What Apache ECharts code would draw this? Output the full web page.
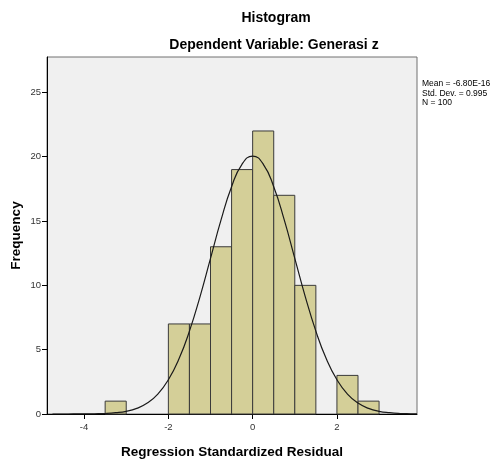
<!DOCTYPE html>
<html>
<head>
<meta charset="utf-8">
<script src="https://cdn.jsdelivr.net/npm/echarts@6/dist/echarts.min.js"></script>
<style>
html,body{margin:0;padding:0;background:#fff;}
#chart{width:499px;height:459px;}
</style>
</head>
<body>
<div id="chart"></div>
<script>
// Histogram bins: [start, end]
var binStarts = [-3.5, -2.0, -1.5, -1.0, -0.5, 0.0, 0.5, 1.0, 2.0, 2.5];
var binWidth = 0.5;
var frequencies = [1, 7, 7, 13, 19, 22, 17, 10, 3, 1];

// Normal curve
var curveX = [-4.75, -4.5, -4.25, -4.0, -3.75, -3.5, -3.25, -3.0, -2.75, -2.5, -2.25, -2.0, -1.75, -1.5, -1.25, -1.0, -0.75, -0.5, -0.25, 0.0,
              0.25, 0.5, 0.75, 1.0, 1.25, 1.5, 1.75, 2.0, 2.25, 2.5, 2.75, 3.0, 3.25, 3.5, 3.75, 3.9];
var curveY = [0.0, 0.0, 0.002, 0.006, 0.017, 0.04, 0.10, 0.21, 0.44, 0.85, 1.55, 2.66, 4.27, 6.44, 9.11, 12.10, 15.09, 17.67, 19.43, 20.05,
              19.43, 17.67, 15.09, 12.10, 9.11, 6.44, 4.27, 2.66, 1.55, 0.85, 0.44, 0.21, 0.10, 0.04, 0.017, 0.009];

var xTicks = [-4, -2, 0, 2];
var yTicks = [0, 5, 10, 15, 20, 25];

var titleText = 'Histogram';
var subtitleText = 'Dependent Variable: Generasi z';
var statsLines = ['Mean = -6.80E-16', 'Std. Dev. = 0.995', 'N = 100'];

var barData = binStarts.map(function (s, i) { return [s, s + binWidth, frequencies[i]]; });
var curveData = curveX.map(function (x, i) { return [x, curveY[i]]; });

var chart = echarts.init(document.getElementById('chart'), null, {renderer: 'canvas'});
var font = 'Liberation Sans, Arial, sans-serif';

var option = {
  backgroundColor: '#ffffff',
  animation: false,
  title: [
    {text: titleText, left: 271, top: 6, textAlign: 'center',
     textStyle: {fontFamily: font, fontSize: 14, fontWeight: 'bold', color: '#000'}},
    {text: subtitleText, left: 269, top: 33, textAlign: 'center',
     textStyle: {fontFamily: font, fontSize: 14, fontWeight: 'bold', color: '#000'}}
  ],
  grid: {left: 47, right: 82, top: 57, bottom: 45, show: true, backgroundColor: '#F0F0F0',
         borderColor: '#707070', borderWidth: 1, containLabel: false, outerBoundsMode: 'none'},
  xAxis: {
    type: 'value', min: -4.88, max: 3.90,
    name: 'Regression Standardized Residual', nameLocation: 'middle', nameGap: 31,
    nameTextStyle: {fontFamily: font, fontSize: 13.5, fontWeight: 'bold', color: '#000'},
    axisLine: {show: true, onZero: false, lineStyle: {color: '#000', width: 1}},
    axisTick: {show: true, length: 5, customValues: xTicks, lineStyle: {color: '#000'}},
    axisLabel: {customValues: xTicks, fontFamily: font, fontSize: 9.5, color: '#333', margin: 8},
    splitLine: {show: false}
  },
  yAxis: {
    type: 'value', min: 0, max: 27.75,
    name: 'Frequency', nameLocation: 'middle', nameGap: 24, nameRotate: 90, nameMoveOverlap: false,
    nameTextStyle: {fontFamily: font, fontSize: 13.5, fontWeight: 'bold', color: '#000'},
    axisLine: {show: true, onZero: false, lineStyle: {color: '#000', width: 1}},
    axisTick: {show: true, length: 5, customValues: yTicks, lineStyle: {color: '#000'}},
    axisLabel: {customValues: yTicks, fontFamily: font, fontSize: 9.5, color: '#333', margin: 6},
    splitLine: {show: false}
  },
  graphic: statsLines.map(function (t, i) {
    return {type: 'text', left: 422, top: 79 + i * 9.7,
            style: {text: t, fontFamily: font, fontSize: 8.5, fill: '#000'}};
  }),
  series: [
    {
      type: 'custom',
      data: barData,
      z: 2,
      renderItem: function (params, api) {
        var p0 = api.coord([api.value(0), api.value(2)]);
        var p1 = api.coord([api.value(1), 0]);
        return {
          type: 'rect',
          shape: {x: p0[0], y: p0[1], width: p1[0] - p0[0], height: p1[1] - p0[1]},
          style: {fill: '#D4CF98', stroke: '#3a3a3a', lineWidth: 1}
        };
      },
      encode: {x: [0, 1], y: 2}
    },
    {
      type: 'line',
      data: curveData,
      smooth: true,
      showSymbol: false,
      z: 3,
      lineStyle: {color: '#1a1a1a', width: 1.2}
    }
  ]
};
chart.setOption(option);
</script>
</body>
</html>
